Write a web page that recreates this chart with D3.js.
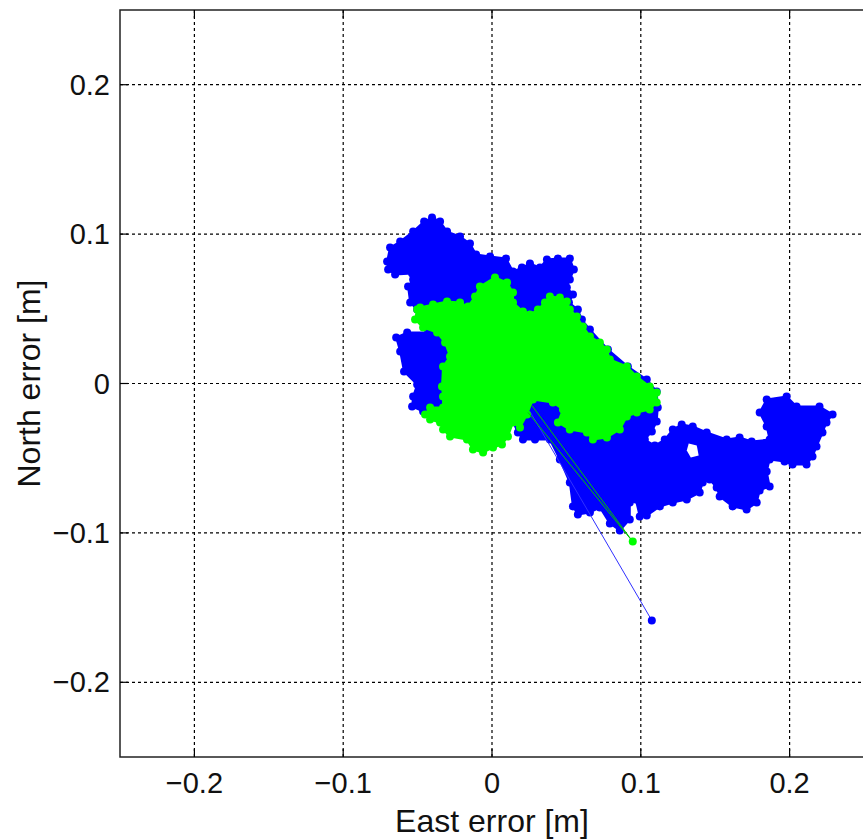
<!DOCTYPE html>
<html>
<head>
<meta charset="utf-8">
<script src="https://cdn.jsdelivr.net/npm/d3@7"></script>
<style>
  body { margin: 0; background: #fff; }
  text { font-family: "Liberation Sans", Arial, sans-serif; }
</style>
</head>
<body>
<script>
// axis setup
var xTicks = [-0.2, -0.1, 0, 0.1, 0.2];
var yTicks = [-0.2, -0.1, 0, 0.1, 0.2];
var xDomain = [-0.25, 0.25];
var yDomain = [-0.25, 0.25];

// outline of the blue point cloud [east, north] in m
var blueCloud = [
  [-0.0705,0.0817],[-0.0685,0.0910],[-0.0617,0.0950],[-0.0530,0.1017],[-0.0456,0.1084],
  [-0.0403,0.1111],[-0.0349,0.1084],[-0.0302,0.1017],[-0.0215,0.0984],[-0.0148,0.0937],
  [-0.0107,0.0863],[-0.0013,0.0850],[0.0094,0.0837],[0.0141,0.0750],[0.0201,0.0776],
  [0.0255,0.0803],[0.0322,0.0776],[0.0369,0.0830],[0.0443,0.0837],[0.0523,0.0837],
  [0.0550,0.0763],[0.0523,0.0696],[0.0503,0.0643],[0.0544,0.0596],[0.0517,0.0542],
  [0.0577,0.0495],[0.0604,0.0428],[0.0658,0.0361],[0.0779,0.0228],[0.0913,0.0114],
  [0.1040,0.0027],[0.1107,-0.0054],[0.1114,-0.0161],[0.1107,-0.0254],[0.1074,-0.0321],
  [0.1027,-0.0375],[0.1094,-0.0415],[0.1161,-0.0375],[0.1215,-0.0308],[0.1275,-0.0274],
  [0.1349,-0.0288],[0.1443,-0.0328],[0.1577,-0.0375],[0.1664,-0.0361],[0.1745,-0.0388],
  [0.1866,-0.0375],[0.1846,-0.0288],[0.1799,-0.0194],[0.1846,-0.0107],[0.1980,-0.0087],
  [0.2047,-0.0154],[0.2201,-0.0154],[0.2289,-0.0207],[0.2248,-0.0261],[0.2221,-0.0328],
  [0.2181,-0.0422],[0.2154,-0.0489],[0.2114,-0.0542],[0.2020,-0.0542],[0.1966,-0.0522],
  [0.1866,-0.0509],[0.1846,-0.0589],[0.1866,-0.0689],[0.1799,-0.0716],[0.1779,-0.0797],
  [0.1711,-0.0843],[0.1617,-0.0823],[0.1530,-0.0756],[0.1510,-0.0696],[0.1463,-0.0643],
  [0.1416,-0.0663],[0.1396,-0.0730],[0.1309,-0.0776],[0.1215,-0.0797],[0.1128,-0.0823],
  [0.1040,-0.0884],[0.0993,-0.0890],[0.0966,-0.0776],[0.0926,-0.0797],[0.0926,-0.0910],
  [0.0859,-0.0984],[0.0792,-0.0937],[0.0725,-0.0830],[0.0658,-0.0863],[0.0577,-0.0877],
  [0.0544,-0.0823],[0.0523,-0.0663],[0.0456,-0.0509],[0.0389,-0.0375],[0.0289,-0.0375],
  [0.0208,-0.0375],[0.0174,-0.0328],[0.0134,-0.0241],[-0.0148,-0.0308],[-0.0416,-0.0187],
  [-0.0463,-0.0187],[-0.0537,-0.0154],[-0.0530,-0.0087],[-0.0503,-0.0007],[-0.0591,0.0080],
  [-0.0617,0.0214],[-0.0644,0.0308],[-0.0570,0.0341],[-0.0430,0.0341],[-0.0450,0.0428],
  [-0.0503,0.0495],[-0.0550,0.0542],[-0.0564,0.0649],[-0.0530,0.0696],[-0.0537,0.0736],
  [-0.0651,0.0730],[-0.0698,0.0763]
];
var blueHole = [[0.1322,-0.0402],[0.1376,-0.0415],[0.1389,-0.0482],[0.1336,-0.0495],[0.1309,-0.0448]];

// outline of the green point cloud
var greenCloud = [
  [0.0020,0.0710],[0.0101,0.0676],[0.0141,0.0609],[0.0141,0.0542],[0.0208,0.0482],
  [0.0255,0.0462],[0.0309,0.0495],[0.0356,0.0542],[0.0389,0.0582],[0.0456,0.0576],
  [0.0503,0.0549],[0.0523,0.0495],[0.0570,0.0448],[0.0611,0.0382],[0.0658,0.0315],
  [0.0725,0.0274],[0.0772,0.0228],[0.0792,0.0161],[0.0906,0.0114],[0.0973,0.0047],
  [0.1060,-0.0020],[0.1107,-0.0060],[0.1107,-0.0127],[0.1060,-0.0174],[0.0973,-0.0194],
  [0.0906,-0.0221],[0.0859,-0.0308],[0.0772,-0.0361],[0.0678,-0.0375],[0.0638,-0.0328],
  [0.0523,-0.0308],[0.0443,-0.0261],[0.0477,-0.0174],[0.0409,-0.0127],[0.0275,-0.0107],
  [0.0235,-0.0207],[0.0188,-0.0295],[0.0141,-0.0261],[0.0107,-0.0355],[0.0067,-0.0408],
  [0.0007,-0.0428],[-0.0060,-0.0462],[-0.0128,-0.0442],[-0.0168,-0.0375],[-0.0282,-0.0355],
  [-0.0329,-0.0308],[-0.0349,-0.0261],[-0.0416,-0.0241],[-0.0450,-0.0207],[-0.0416,-0.0161],
  [-0.0329,-0.0161],[-0.0329,-0.0087],[-0.0336,-0.0020],[-0.0329,0.0114],[-0.0282,0.0181],
  [-0.0315,0.0274],[-0.0369,0.0341],[-0.0463,0.0375],[-0.0517,0.0428],[-0.0503,0.0495],
  [-0.0483,0.0509],[-0.0396,0.0529],[-0.0302,0.0549],[-0.0215,0.0542],[-0.0161,0.0515],
  [-0.0114,0.0582],[-0.0081,0.0649]
];

// jumps out to the outlier fixes
var blueJump = [[0.0255,-0.0187],[0.1074,-0.1586]];
var greenJumpA = [[0.0268,-0.0147],[0.0946,-0.1058]];
var greenJumpB = [[0.0242,-0.0194],[0.0906,-0.1011],[0.0946,-0.1058]];
var blueOutlier = [0.1074,-0.1586];
var greenOutlier = [0.0946,-0.1058];

var W = 863, H = 839;
var margin = {top: 10, right: -1, bottom: 82, left: 120};

var svg = d3.select("body").append("svg")
    .attr("width", W)
    .attr("height", H);

var x = d3.scaleLinear().domain(xDomain).range([margin.left, W - margin.right]);
var y = d3.scaleLinear().domain(yDomain).range([H - margin.bottom, margin.top]);

var line = d3.line().x(function(d) { return x(d[0]); }).y(function(d) { return y(d[1]); });

// grid
svg.append("g").selectAll("line").data(xTicks).enter().append("line")
    .attr("x1", function(d) { return x(d); }).attr("x2", function(d) { return x(d); })
    .attr("y1", y(yDomain[0])).attr("y2", y(yDomain[1]))
    .attr("stroke", "#000").attr("stroke-width", 1.2).attr("stroke-dasharray", "3,3");
svg.append("g").selectAll("line").data(yTicks).enter().append("line")
    .attr("y1", function(d) { return y(d); }).attr("y2", function(d) { return y(d); })
    .attr("x1", x(xDomain[0])).attr("x2", x(xDomain[1]))
    .attr("stroke", "#000").attr("stroke-width", 1.2).attr("stroke-dasharray", "3,3");

// clouds
function cloud(pts, col) {
  svg.append("path").datum(pts)
      .attr("d", function(d) { return line(d) + "Z"; })
      .attr("fill", col).attr("stroke", col)
      .attr("stroke-width", 2).attr("stroke-linejoin", "round");
  svg.append("g").selectAll("circle").data(pts).enter().append("circle")
      .attr("cx", function(d) { return x(d[0]); })
      .attr("cy", function(d) { return y(d[1]); })
      .attr("r", 4).attr("fill", col);
}
cloud(blueCloud, "#0000ff");
svg.append("path").datum(blueHole)
    .attr("d", function(d) { return line(d) + "Z"; })
    .attr("fill", "#fff");

svg.append("path").datum(blueJump).attr("d", line)
    .attr("fill", "none").attr("stroke", "#3030ff").attr("stroke-width", 1);
cloud(greenCloud, "#00ff00");
svg.append("path").datum(greenJumpA).attr("d", line)
    .attr("fill", "none").attr("stroke", "#00c800").attr("stroke-width", 1);
svg.append("path").datum(greenJumpB).attr("d", line)
    .attr("fill", "none").attr("stroke", "#00c800").attr("stroke-width", 1);

svg.append("circle").attr("cx", x(blueOutlier[0])).attr("cy", y(blueOutlier[1]))
    .attr("r", 4).attr("fill", "#0000ff");
svg.append("circle").attr("cx", x(greenOutlier[0])).attr("cy", y(greenOutlier[1]))
    .attr("r", 4).attr("fill", "#00ff00");

// box
var x0 = x(xDomain[0]), x1 = x(xDomain[1]), y0 = y(yDomain[0]), y1 = y(yDomain[1]);
svg.append("rect").attr("x", x0).attr("y", y1).attr("width", x1 - x0).attr("height", y0 - y1)
    .attr("fill", "none").attr("stroke", "#222").attr("stroke-width", 1.5);

// ticks (inside)
var tl = 8;
svg.append("g").selectAll("line").data(xTicks).enter().append("line")
    .attr("x1", function(d) { return x(d); }).attr("x2", function(d) { return x(d); })
    .attr("y1", y0).attr("y2", y0 - tl).attr("stroke", "#000").attr("stroke-width", 1.2);
svg.append("g").selectAll("line").data(xTicks).enter().append("line")
    .attr("x1", function(d) { return x(d); }).attr("x2", function(d) { return x(d); })
    .attr("y1", y1).attr("y2", y1 + tl).attr("stroke", "#000").attr("stroke-width", 1.2);
svg.append("g").selectAll("line").data(yTicks).enter().append("line")
    .attr("y1", function(d) { return y(d); }).attr("y2", function(d) { return y(d); })
    .attr("x1", x0).attr("x2", x0 + tl).attr("stroke", "#000").attr("stroke-width", 1.2);

function fmt(d) { return d === 0 ? "0" : (d < 0 ? "\u2212" : "") + Math.abs(d).toString(); }

svg.append("g").selectAll("text").data(xTicks).enter().append("text")
    .attr("x", function(d) { return x(d); }).attr("y", 793)
    .attr("text-anchor", "middle").attr("font-size", 29).attr("fill", "#111")
    .text(fmt);
svg.append("g").selectAll("text").data(yTicks).enter().append("text")
    .attr("x", x0 - 10).attr("y", function(d) { return y(d) + 10; })
    .attr("text-anchor", "end").attr("font-size", 29).attr("fill", "#111")
    .text(fmt);

svg.append("text").attr("x", x(0)).attr("y", 832)
    .attr("text-anchor", "middle").attr("font-size", 32).attr("fill", "#111")
    .text("East error [m]");
svg.append("text")
    .attr("transform", "translate(40," + y(0) + ") rotate(-90)")
    .attr("text-anchor", "middle").attr("font-size", 32).attr("fill", "#111")
    .text("North error [m]");
</script>
</body>
</html>
